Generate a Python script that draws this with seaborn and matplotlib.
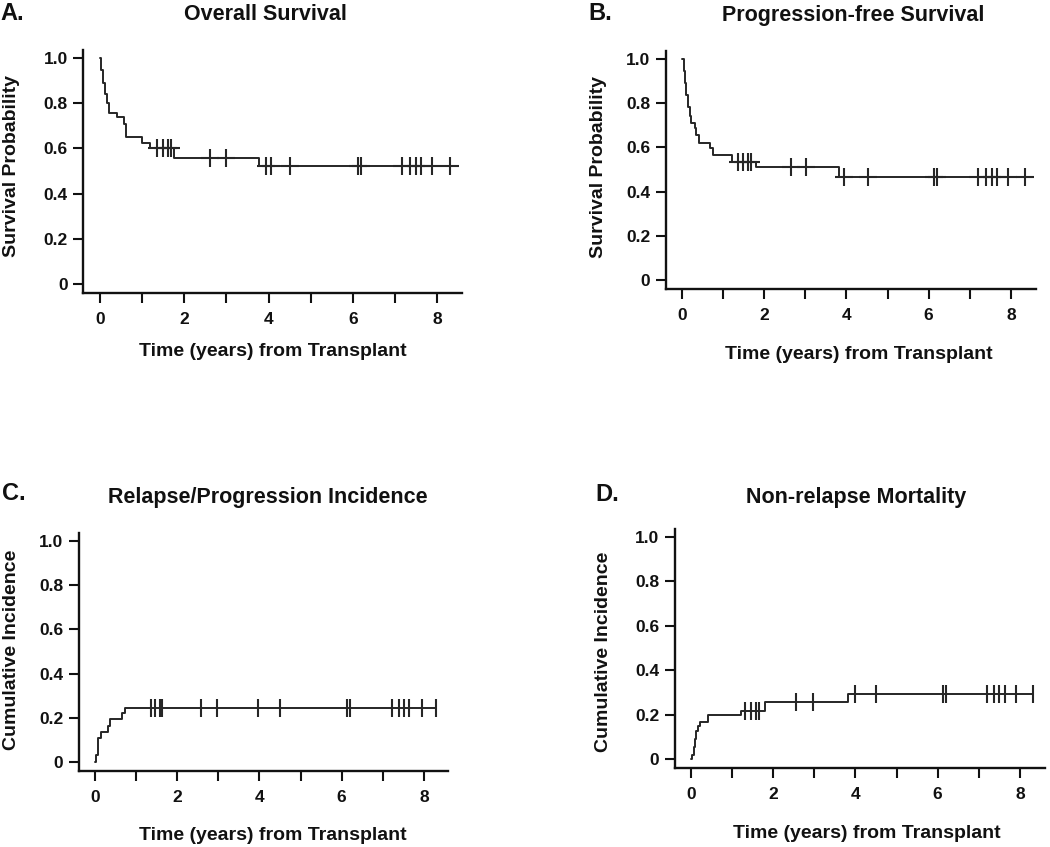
import numpy as np
import pandas as pd
import seaborn as sns
from matplotlib import pyplot as plt

# step curves: (time in years, value after the step)
os_times = [0, 0.03, 0.07, 0.11, 0.16, 0.22, 0.41, 0.57, 0.62, 0.99, 1.19, 1.76, 3.78]
os_vals = [1.0, 0.945, 0.89, 0.84, 0.80, 0.757, 0.737, 0.71, 0.652, 0.623, 0.60, 0.557, 0.523]
os_cens = [1.35, 1.5, 1.62, 1.68, 2.62, 3.0, 3.93, 4.06, 4.5, 6.13, 6.2,
           7.17, 7.35, 7.49, 7.62, 7.89, 8.31]

pfs_times = [0, 0.05, 0.08, 0.105, 0.146, 0.186, 0.227, 0.31, 0.35, 0.405, 0.67, 0.75, 1.21, 1.8, 3.83]
pfs_vals = [1.0, 0.944, 0.891, 0.838, 0.785, 0.74, 0.71, 0.687, 0.657, 0.62, 0.597, 0.566, 0.536, 0.51, 0.465]
pfs_cens = [1.36, 1.48, 1.6, 1.68, 2.66, 3.02, 3.95, 4.53, 6.14, 6.21,
            7.21, 7.40, 7.54, 7.67, 7.92, 8.35]

rel_times = [0, 0.02, 0.06, 0.15, 0.31, 0.37, 0.65, 0.74]
rel_vals = [0, 0.03, 0.11, 0.135, 0.165, 0.195, 0.22, 0.245]
rel_cens = [1.35, 1.46, 1.57, 1.62, 2.57, 2.96, 3.97, 4.5, 6.12, 6.2,
            7.22, 7.40, 7.52, 7.65, 7.95, 8.30]

nrm_times = [0, 0.02, 0.06, 0.09, 0.12, 0.16, 0.21, 0.42, 1.22, 1.79, 3.81]
nrm_vals = [0, 0.02, 0.055, 0.09, 0.125, 0.148, 0.166, 0.196, 0.218, 0.256, 0.291]
nrm_cens = [1.31, 1.45, 1.58, 1.65, 2.55, 2.96, 3.99, 4.5, 6.12, 6.2,
            7.2, 7.36, 7.49, 7.63, 7.9, 8.32]

x_ticks = list(range(9))
x_ticklabels = ["0", "", "2", "", "4", "", "6", "", "8"]
y_ticks = [0, 0.2, 0.4, 0.6, 0.8, 1.0]
y_ticklabels = ["0", "0.2", "0.4", "0.6", "0.8", "1.0"]

W, H = 1050, 847
INK = "#111111"
CURVE = "#262626"

sns.set_style("ticks")
plt.rcParams['font.family'] = ['Liberation Sans', 'DejaVu Sans']
plt.rcParams['font.weight'] = 'bold'

fig = plt.figure(figsize=(W / 100, H / 100), dpi=100)
fig.patch.set_facecolor('white')


def px_axes(left, top, right, bottom):
    return fig.add_axes([left / W, 1 - bottom / H, (right - left) / W, (bottom - top) / H])


def draw_panel(ax, times, vals, cens, marker, ylabel, xl_pos, yl_pos):
    times = np.asarray(times)
    vals = np.asarray(vals)
    # extend the last step to the last censored time
    t_line = np.append(times, max(cens))
    v_line = np.append(vals, vals[-1])
    df = pd.DataFrame({"t": t_line, "v": v_line})
    sns.lineplot(data=df, x="t", y="v", ax=ax, estimator=None, drawstyle='steps-post',
                 color=CURVE, linewidth=1.4)
    idx = np.searchsorted(times, cens, side='right') - 1
    cdf = pd.DataFrame({"t": cens, "v": vals[idx]})
    sns.scatterplot(data=cdf, x="t", y="v", ax=ax, marker=marker, s=185 if marker == '+' else 150,
                    color=CURVE, linewidth=1.5, zorder=3)

    ax.set_xlim(-0.4, 8.6)
    ax.set_ylim(-0.04, 1.035)
    ax.set_xticks(x_ticks)
    ax.set_xticklabels(x_ticklabels)
    ax.set_yticks(y_ticks)
    ax.set_yticklabels(y_ticklabels)
    sns.despine(ax=ax)
    for s in ['left', 'bottom']:
        ax.spines[s].set_linewidth(1.7)
        ax.spines[s].set_color(INK)
    ax.tick_params(axis='both', length=7, width=1.5, color=INK, labelsize=12.5, labelcolor=INK)
    ax.tick_params(axis='x', pad=7)
    ax.tick_params(axis='y', pad=4)
    for lab in ax.get_xticklabels() + ax.get_yticklabels():
        lab.set_fontweight('bold')
    ax.set_xlabel("Time (years) from Transplant", fontsize=14, fontweight='bold', color=INK)
    ax.set_ylabel(ylabel, fontsize=14, fontweight='bold', color=INK)
    ax.xaxis.set_label_coords(*xl_pos)
    ax.yaxis.set_label_coords(*yl_pos)


axA = px_axes(83.2, 50.1, 462.3, 293.0)
axB = px_axes(665.6, 51.3, 1035.5, 288.8)
axC = px_axes(78.6, 533.3, 448.5, 770.8)
axD = px_axes(674.6, 529.2, 1044.5, 767.9)

draw_panel(axA, os_times, os_vals, os_cens, '+', "Survival Probability", (0.50, -0.205), (-0.167, 0.523))
draw_panel(axB, pfs_times, pfs_vals, pfs_cens, '+', "Survival Probability", (0.523, -0.24), (-0.159, 0.514))
draw_panel(axC, rel_times, rel_vals, rel_cens, '|', "Cumulative Incidence", (0.525, -0.237), (-0.158, 0.509))
draw_panel(axD, nrm_times, nrm_vals, nrm_cens, '|', "Cumulative Incidence", (0.519, -0.239), (-0.17, 0.487))

titles = [("Overall Survival", 265, 15), ("Progression-free Survival", 853, 15),
          ("Relapse/Progression Incidence", 268, 497), ("Non-relapse Mortality", 856, 497)]
for txt, x, y in titles:
    fig.text(x / W, 1 - y / H, txt, ha='center', va='center', fontsize=15.5, fontweight='bold', color=INK)

letters = [("A.", 0, 13), ("B.", 588, 13), ("C.", 2, 493), ("D.", 595, 494)]
for txt, x, y in letters:
    fig.text(x / W, 1 - y / H, txt, ha='left', va='center', fontsize=17, fontweight='bold', color=INK)

fig.savefig("out.png", dpi=100, facecolor='white')
